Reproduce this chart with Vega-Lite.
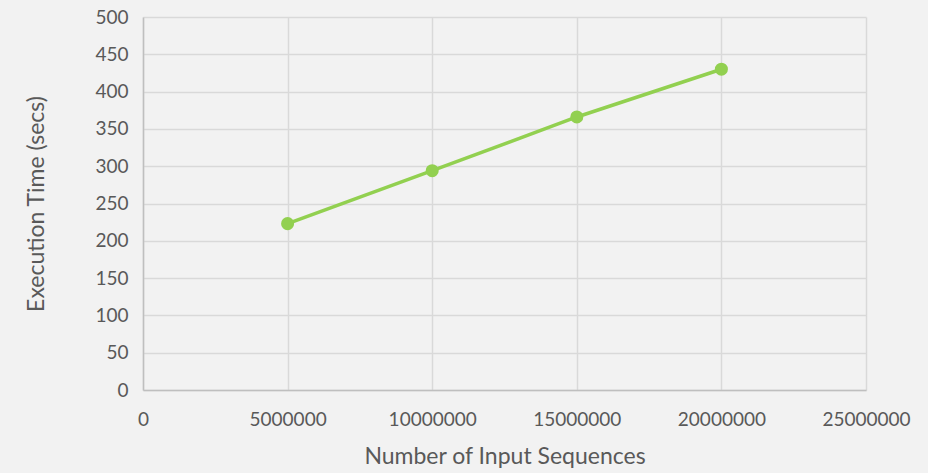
{
  "$schema": "https://vega.github.io/schema/vega-lite/v6.json",
  "autosize": {"type": "none"},
  "width": 723,
  "height": 373,
  "padding": {"left": 143, "top": 17, "right": 62, "bottom": 83},
  "background": "#f2f2f2",
  "config": {
    "view": {"stroke": null},
    "font": "Lato",
    "axis": {
      "labelColor": "#595959",
      "titleColor": "#595959",
      "labelFontSize": 19,
      "titleFontSize": 23,
      "labelFont": "Lato",
      "titleFont": "Lato",
      "titleFontWeight": "normal",
      "gridColor": "#d9d9d9",
      "gridWidth": 1.5,
      "domainColor": "#bfbfbf",
      "domainWidth": 1.5,
      "ticks": false
    }
  },
  "data": {
    "values": [
      {"seq": 5000000, "time": 223},
      {"seq": 10000000, "time": 294},
      {"seq": 15000000, "time": 366},
      {"seq": 20000000, "time": 430}
    ]
  },
  "encoding": {
    "x": {
      "field": "seq",
      "type": "quantitative",
      "scale": {"domain": [0, 25000000], "nice": false},
      "axis": {
        "values": [0, 5000000, 10000000, 15000000, 20000000, 25000000],
        "format": "d",
        "labelPadding": 20,
        "labelOverlap": false,
        "labelBound": false,
        "labelFlush": false,
        "title": "Number of Input Sequences",
        "titlePadding": 16
      }
    },
    "y": {
      "field": "time",
      "type": "quantitative",
      "scale": {"domain": [0, 500], "nice": false},
      "axis": {
        "values": [0, 50, 100, 150, 200, 250, 300, 350, 400, 450, 500],
        "labelPadding": 15,
        "title": "Execution Time (secs)",
        "titlePadding": 46
      }
    }
  },
  "layer": [
    {"mark": {"type": "line", "color": "#92d050", "strokeWidth": 3.5}},
    {"mark": {"type": "point", "filled": true, "opacity": 1, "color": "#92d050", "size": 170}}
  ]
}
